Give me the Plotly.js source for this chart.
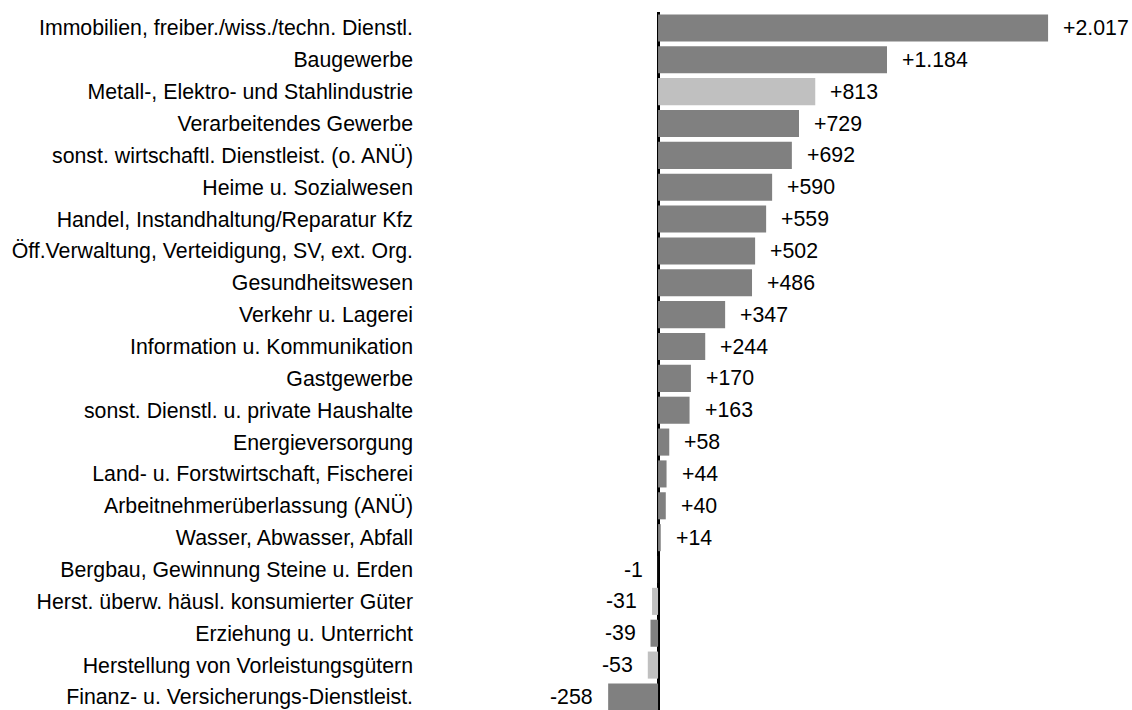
<!DOCTYPE html>
<html><head><meta charset="utf-8">
<script src="https://cdn.plot.ly/plotly-3.0.1.min.js"></script>
<style>html,body{margin:0;padding:0;background:#fff}#chart{width:1132px;height:710px}</style>
</head><body><div id="chart"></div>
<script>
const categories = [
  "Immobilien, freiber./wiss./techn. Dienstl.",
  "Baugewerbe",
  "Metall-, Elektro- und Stahlindustrie",
  "Verarbeitendes Gewerbe",
  "sonst. wirtschaftl. Dienstleist. (o. ANÜ)",
  "Heime u. Sozialwesen",
  "Handel, Instandhaltung/Reparatur Kfz",
  "Öff.Verwaltung, Verteidigung, SV, ext. Org.",
  "Gesundheitswesen",
  "Verkehr u. Lagerei",
  "Information u. Kommunikation",
  "Gastgewerbe",
  "sonst. Dienstl. u. private Haushalte",
  "Energieversorgung",
  "Land- u. Forstwirtschaft, Fischerei",
  "Arbeitnehmerüberlassung (ANÜ)",
  "Wasser, Abwasser, Abfall",
  "Bergbau, Gewinnung Steine u. Erden",
  "Herst. überw. häusl. konsumierter Güter",
  "Erziehung u. Unterricht",
  "Herstellung von Vorleistungsgütern",
  "Finanz- u. Versicherungs-Dienstleist."
];
const values = [2017, 1184, 813, 729, 692, 590, 559, 502, 486, 347, 244, 170, 163, 58, 44, 40, 14, -1, -31, -39, -53, -258];
const highlighted = [false,false,true,false,false,false,false,false,false,false,false,false,false,false,false,false,false,false,true,false,true,false];

function fmt(v){
  const s = Math.abs(v).toString().replace(/\B(?=(\d{3})+(?!\d))/g, ".");
  return (v >= 0 ? "+" : "-") + s;
}
const colors = highlighted.map(h => h ? "#c0c0c0" : "#808080");
const FONT = "Liberation Sans, Arial, sans-serif";
const FS = 21.3;

const trace = {
  type: "bar", orientation: "h",
  x: values, y: categories,
  marker: {color: colors, line: {width: 0}},
  hoverinfo: "none"
};

const annotations = values.map((v, i) => ({
  x: v, y: categories[i], xref: "x", yref: "y",
  text: fmt(v), showarrow: false,
  xanchor: v >= 0 ? "left" : "right",
  xshift: v >= 0 ? 13 : -13,
  font: {family: FONT, size: FS, color: "#000"}
}));

const layout = {
  width: 1132, height: 710,
  margin: {l: 420, r: 0, t: 12, b: 0},
  paper_bgcolor: "#fff", plot_bgcolor: "#fff",
  font: {family: FONT, size: FS, color: "#000"},
  showlegend: false,
  bargap: 0.15,
  xaxis: {
    range: [-1231, 2451], showgrid: false, showticklabels: false, ticks: "",
    zeroline: true, zerolinecolor: "#000", zerolinewidth: 3, showline: false
  },
  yaxis: {
    type: "category", range: [21.41, -0.5], showgrid: false, zeroline: false,
    ticks: "", showline: false, automargin: false, ticklabelstandoff: 6,
    tickfont: {family: FONT, size: FS, color: "#000"}
  },
  annotations: annotations
};

Plotly.newPlot("chart", [trace], layout, {displayModeBar: false, staticPlot: true});
</script></body></html>
